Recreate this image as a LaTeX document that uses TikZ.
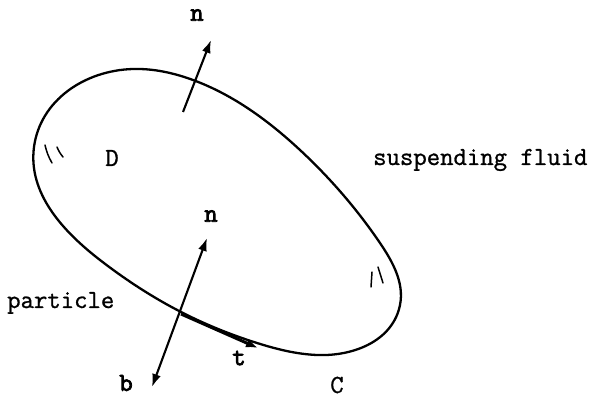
\documentclass[tikz,border=0pt]{standalone}
\usepackage{fontspec}
\newfontfamily\bmono{Latin Modern Mono}[FakeBold=3]
\newfontfamily\rmono{Latin Modern Mono}[FakeBold=1]
\usetikzlibrary{arrows.meta,hobby}
\begin{document}
\begin{tikzpicture}[x=1pt,y=-1pt,
  lbl/.style={inner sep=0pt, font=\fontsize{26}{30}\selectfont\rmono},
  blbl/.style={inner sep=0pt, font=\fontsize{26}{30}\selectfont\bmono},
  outline/.style={line width=2.3pt, line join=round},
  vec/.style={line width=2.1pt, -{Latex[length=13pt,width=9pt]}},
  dvec/.style={line width=2.1pt, {Latex[length=13pt,width=9pt]}-{Latex[length=13pt,width=9pt]}},
  tick/.style={line width=1.5pt, line cap=round}]
\useasboundingbox (0,0) rectangle (598,398);
% particle outline
\draw[outline, use Hobby shortcut, closed=true]
  (34,147) .. (133,69) .. (193,80) .. (300,150) .. (380,243) .. (400,305)
  .. (317,355) .. (257,343) .. (183,313) .. (100,260) .. (34,147);
% coordinates for the vectors
\coordinate (ntail) at (183,112);
\coordinate (nhead) at (211,40);
\coordinate (P) at (181,314);
\coordinate (btip) at (152,387);
\coordinate (ntip) at (207,238);
\coordinate (ttip) at (258,348);
\draw[vec] (ntail) -- (nhead);
\draw[dvec] (btip) -- (ntip);
\draw[line width=3pt, -{Latex[length=12pt,width=9pt]}] (P) -- (ttip);
% tick marks
\draw[tick] (45,145) to[bend right=8] (52,163);
\draw[tick] (57,147) to[bend right=8] (63,157);
\draw[tick] (372,272) -- (371,287);
\draw[tick] (378,267) -- (383,283);
% labels
\node[blbl] (ltopn) at (197,15) {n};
\node[blbl] (lbotn) at (211,216) {n};
\node[blbl] (lb) at (126,383) {b};
\node[blbl] (lt) at (239,358) {t};
\node[lbl] (lD) at (112,158) {D};
\node[lbl] (lC) at (337,385) {C};
\node[lbl, anchor=base west] (lpart) at (7,308) {particle};
\node[lbl, anchor=base west] (lfluid) at (373,165) {suspending fluid};
\end{tikzpicture}
\end{document}
